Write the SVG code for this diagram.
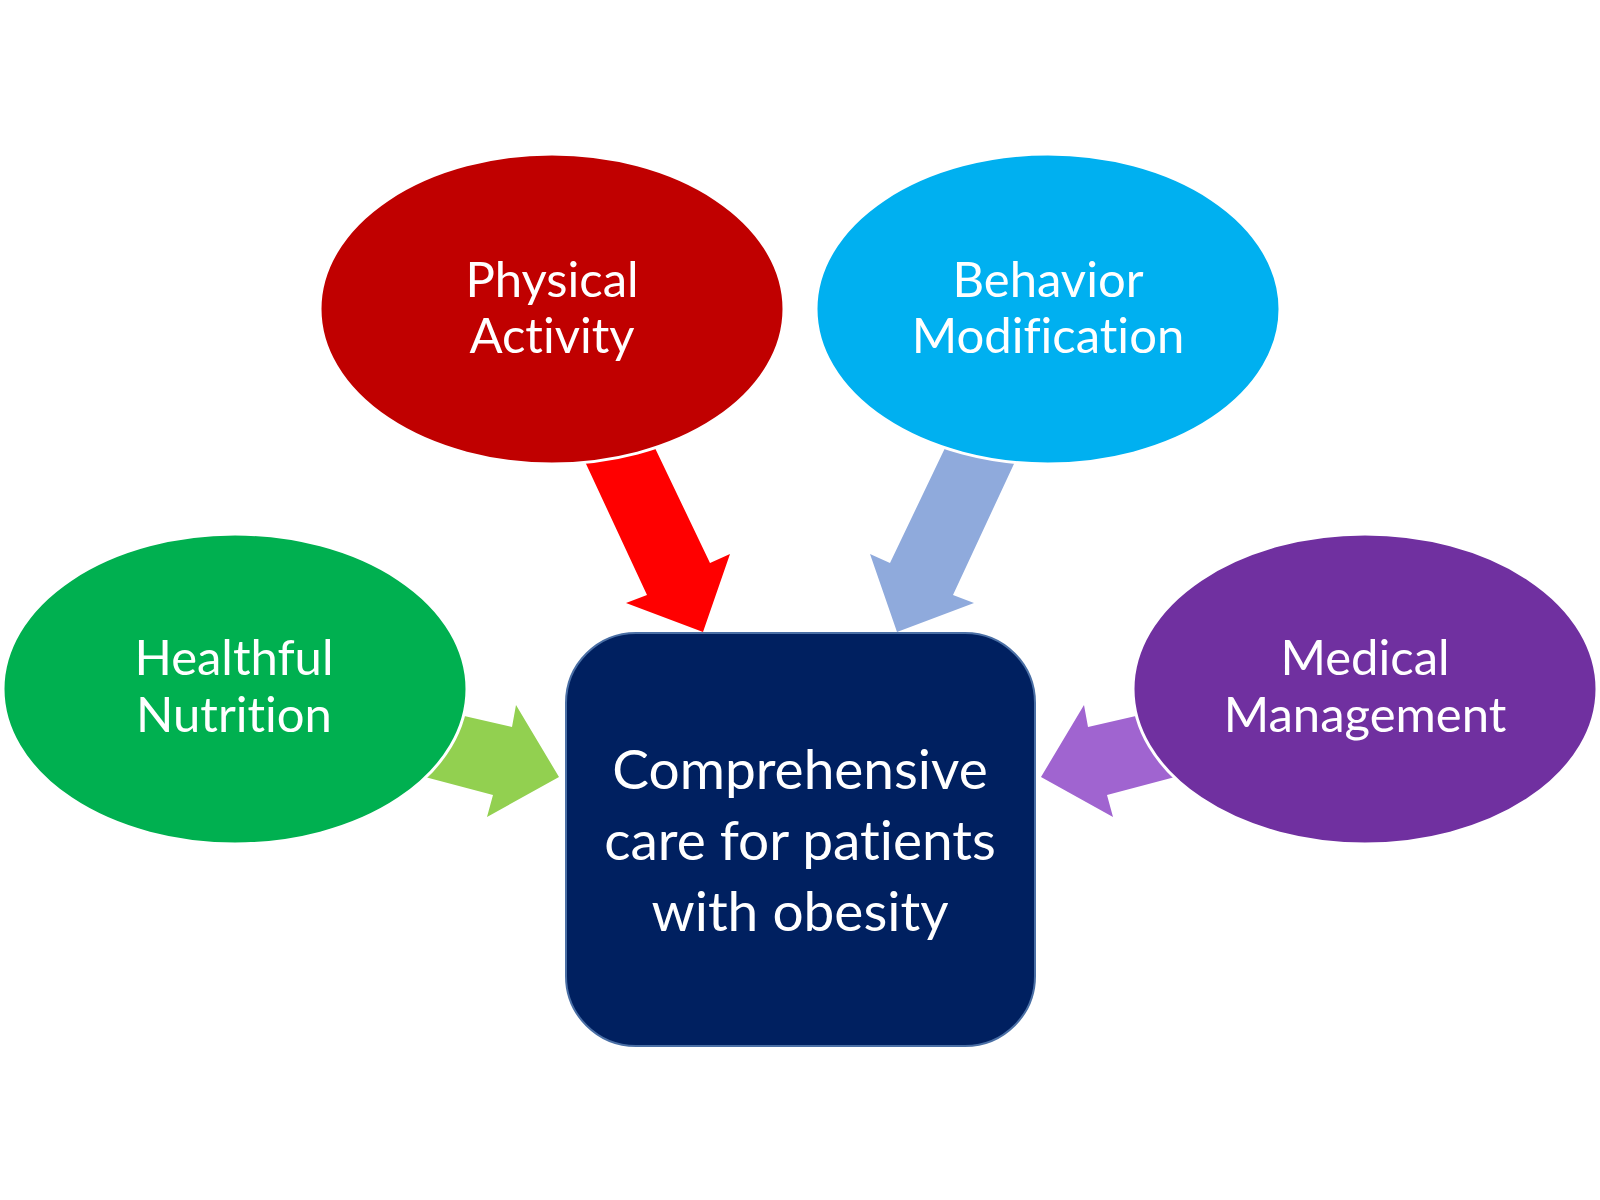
<svg xmlns="http://www.w3.org/2000/svg" width="1600" height="1200" viewBox="0 0 1600 1200">
<style>
.lbl{font-family:Lato,"Liberation Sans",sans-serif;fill:#ffffff;text-anchor:middle;font-size:49px;font-variant-ligatures:none;font-feature-settings:"liga" 0,"clig" 0}
.ctr{font-size:55px}
.ell{stroke:#ffffff;stroke-width:3}
</style>
<rect width="1600" height="1200" fill="#ffffff"/>
<g id="connectors">
<polygon id="arrow-physical" fill="#FF0000" points="574,438 644,425 710,563 730,554 703,632 626,603 647,595"/>
<polygon id="arrow-behavior" fill="#8FAADC" points="1026,438 956,425 890,563 870,554 897,632 974,603 953,595"/>
<polygon id="arrow-nutrition" fill="#92D050" points="425,707 512,727 516,705 559,777 487,817 493,795 391,768"/>
<polygon id="arrow-medical" fill="#A064D0" points="1175,707 1088,727 1084,705 1041,777 1113,817 1107,795 1209,768"/>
</g>
<g id="node-physical">
<ellipse class="ell" cx="552" cy="309" rx="232" ry="155" fill="#C00000"/>
<text class="lbl" x="552" y="297">Physical</text>
<text class="lbl" x="552" y="353">Activity</text>
</g>
<g id="node-behavior">
<ellipse class="ell" cx="1048" cy="309" rx="232" ry="155" fill="#00B0F0"/>
<text class="lbl" x="1048" y="297">Behavior</text>
<text class="lbl" x="1048" y="353">Modification</text>
</g>
<g id="node-nutrition">
<ellipse class="ell" cx="235" cy="689" rx="232" ry="155" fill="#00B050"/>
<text class="lbl" x="234" y="675">Healthful</text>
<text class="lbl" x="234" y="732">Nutrition</text>
</g>
<g id="node-medical">
<ellipse class="ell" cx="1365" cy="689" rx="232" ry="155" fill="#7030A0"/>
<text class="lbl" x="1365" y="675">Medical</text>
<text class="lbl" x="1365" y="732">Management</text>
</g>
<g id="node-center">
<rect x="566" y="633" width="469" height="413" rx="70" ry="70" fill="#002060" stroke="#4A6FA5" stroke-width="2"/>
<text class="lbl ctr" x="800" y="789">Comprehensive</text>
<text class="lbl ctr" x="800" y="860">care for patients</text>
<text class="lbl ctr" x="800" y="931">with obesity</text>
</g>
</svg>
